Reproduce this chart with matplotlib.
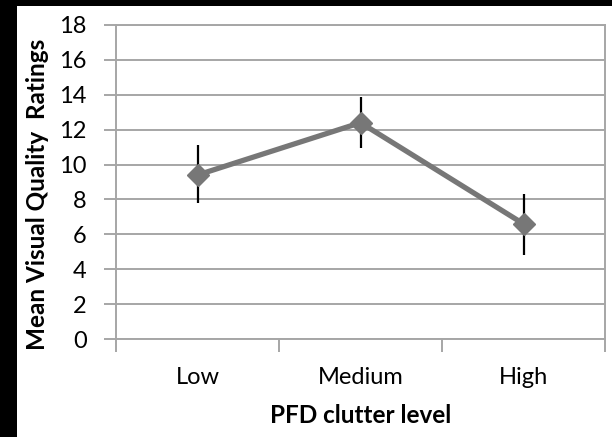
import matplotlib
matplotlib.use("Agg")
import matplotlib.pyplot as plt
from matplotlib.patches import Rectangle

# === datos ===
levels = ["Low", "Medium", "High"]
ratings = [9.4, 12.4, 6.6]
err_lo = [1.6, 1.45, 1.8]
err_hi = [1.7, 1.5, 1.7]
yticks = list(range(0, 19, 2))

GRID = "#a6a6a6"
LINE = "#777777"

plt.rcParams["font.family"] = ["Lato", "DejaVu Sans"]

fig = plt.figure(figsize=(6.12, 4.37), dpi=100)
W, H = 612, 437
# marco negro (izquierda y arriba)
fig.patches.append(Rectangle((0, 0), 17 / W, 1, transform=fig.transFigure,
                             facecolor="black", edgecolor="none", zorder=0))
fig.patches.append(Rectangle((0, 1 - 6 / H), 1, 6 / H, transform=fig.transFigure,
                             facecolor="black", edgecolor="none", zorder=0))

ax = fig.add_axes([116 / W, 98 / H, 489 / W, 314 / H])
x = list(range(len(levels)))

ax.errorbar(x, ratings, yerr=[err_lo, err_hi], fmt="none", ecolor="black",
            elinewidth=1.6, capsize=0, zorder=3)
ax.plot(x, ratings, color=LINE, lw=3.8, marker="D", ms=11,
        markerfacecolor=LINE, markeredgecolor=LINE, zorder=4)

ax.set_xlim(-0.5, len(levels) - 0.5)
ax.set_ylim(0, 18)
ax.set_yticks(yticks)
ax.yaxis.grid(True, color=GRID, lw=1.4)
ax.set_axisbelow(True)

# marcas entre categorías, etiquetas en el centro
ax.set_xticks([i - 0.5 for i in range(len(levels) + 1)])
ax.set_xticklabels([])
ax.set_xticks(x, minor=True)
ax.set_xticklabels(levels, minor=True)
ax.tick_params(axis="x", which="major", length=9, width=1.4, color=GRID)
ax.tick_params(axis="x", which="minor", length=0, pad=20, labelsize=17)
ax.tick_params(axis="y", length=9, width=1.4, color=GRID, pad=12, labelsize=17)

for s in ax.spines.values():
    s.set_color(GRID)
    s.set_linewidth(1.4)

ax.set_xlabel("PFD clutter level", fontsize=17.5, fontweight="bold", labelpad=12)
ax.set_ylabel("Mean Visual Quality  Ratings", fontsize=17.5, fontweight="bold")
ax.yaxis.set_label_coords(-0.137, 0.459)

fig.savefig("out.png", dpi=100)
